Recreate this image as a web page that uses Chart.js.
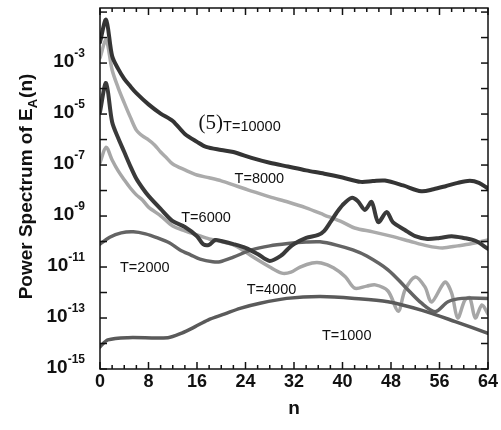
<!DOCTYPE html>
<html>
<head>
<meta charset="utf-8">
<script src="https://cdn.jsdelivr.net/npm/chart.js@4.4.0/dist/chart.umd.min.js"></script>
<style>
  html, body { margin: 0; padding: 0; background: #fff; }
  #wrap { width: 501px; height: 430px; }
</style>
</head>
<body>
<div id="wrap"><canvas id="chart" width="501" height="430"></canvas></div>
<script>
// spectra: mode number n and log10 of the power, per run length T
const n10000 = [0, 1, 2, 3, 4, 5, 6, 8, 10, 12, 14, 16, 17.5, 20, 22, 25, 28, 31, 34, 37, 40, 43, 45, 47, 50, 53, 55, 57, 59, 61, 62.5, 64];
const logP10000 = [-2.18, -1.30, -2.72, -3.23, -3.62, -3.91, -4.18, -4.62, -4.98, -5.27, -5.78, -6.09, -6.29, -6.41, -6.49, -6.72, -6.91, -7.06, -7.21, -7.34, -7.49, -7.66, -7.63, -7.61, -7.80, -8.03, -7.95, -7.83, -7.70, -7.62, -7.70, -7.92];

const n8000 = [0, 1, 2, 3, 4, 5, 6, 7, 8, 9, 10, 11, 12, 14, 16, 18, 20, 22, 24, 25, 28, 31, 34, 37, 40, 42, 45, 48, 51, 54, 56.5, 59, 61, 64];
const logP8000 = [-2.80, -2.10, -3.27, -3.97, -4.56, -5.12, -5.63, -5.86, -6.01, -6.21, -6.49, -6.72, -6.96, -7.19, -7.39, -7.50, -7.62, -7.78, -7.94, -8.02, -8.25, -8.45, -8.68, -8.96, -9.24, -9.47, -9.62, -9.79, -9.98, -10.17, -10.25, -10.17, -10.10, -9.94];

const n6000 = [0, 1, 2, 3, 4, 5, 6, 7, 8, 10, 12, 14, 16, 17, 18, 19, 20, 22, 24, 26, 28, 30, 31, 32, 34, 36, 37, 38, 39, 40, 41.5, 42.5, 43.7, 44.8, 45.9, 47.3, 48.3, 50.3, 52, 54, 56, 58, 60, 62, 64];
const logP6000 = [-4.92, -3.78, -5.31, -5.94, -6.49, -7.04, -7.54, -7.90, -8.21, -8.72, -9.20, -9.43, -9.79, -10.10, -10.13, -9.94, -9.98, -10.10, -10.25, -10.49, -10.76, -10.53, -10.29, -10.10, -9.86, -9.74, -9.58, -9.24, -8.88, -8.57, -8.29, -8.41, -8.76, -8.45, -9.24, -8.84, -9.24, -9.55, -9.79, -9.90, -9.86, -9.79, -9.86, -9.98, -10.29];

const n4000 = [0, 1, 2, 3, 4, 5, 6, 7, 8, 10, 12, 14, 16, 18, 20, 22, 23, 25, 28, 30, 31.5, 33, 35, 36.5, 38.5, 40.5, 42, 44, 45.4, 47.5, 49.2, 50.3, 52, 53.6, 54.7, 56.9, 58, 59, 60.2, 61, 61.9, 63, 64];
const logP4000 = [-6.91, -6.30, -6.80, -7.23, -7.58, -7.90, -8.17, -8.37, -8.65, -8.99, -9.39, -9.58, -9.74, -9.90, -10.00, -10.13, -10.25, -10.57, -11.00, -11.24, -11.20, -11.00, -10.84, -10.84, -11.03, -11.39, -11.83, -11.75, -11.70, -11.94, -12.73, -11.91, -11.39, -11.78, -12.37, -11.59, -12.02, -13.00, -12.29, -12.21, -13.00, -12.49, -12.84];

const n2000 = [0, 1.6, 3.5, 5.5, 7.5, 9.5, 11.5, 13.2, 15, 16.5, 18.6, 19.8, 22, 25, 28, 31, 34, 36.3, 39, 41.7, 44, 47.5, 50.3, 53, 55.3, 57.4, 59.7, 64];
const logP2000 = [-10.10, -9.83, -9.66, -9.62, -9.70, -9.86, -10.06, -10.33, -10.53, -10.69, -10.79, -10.79, -10.61, -10.33, -10.17, -10.08, -10.02, -10.01, -10.14, -10.33, -10.57, -11.11, -11.77, -12.41, -12.75, -12.36, -12.23, -12.23];

const n1000 = [0, 1.3, 4.6, 11.2, 13.5, 15.7, 17.8, 20.6, 23.1, 26.4, 30.8, 36.3, 42, 47.5, 53, 58.6, 64];
const logP1000 = [-14.13, -13.86, -13.77, -13.77, -13.59, -13.34, -13.08, -12.84, -12.62, -12.42, -12.23, -12.16, -12.23, -12.36, -12.69, -13.14, -13.60];

const xTickLabels = [0, 8, 16, 24, 32, 40, 48, 56, 64];
const yLabelExponents = [-15, -13, -11, -9, -7, -5, -3];
const yDecades = [-15, -14, -13, -12, -11, -10, -9, -8, -7, -6, -5, -4, -3, -2, -1];

// curve labels as they sit on the figure: text, n, log10 value
const curveNotes = [
  { text: 'T=10000', n: 20.3, lp: -5.49 },
  { text: 'T=8000', n: 22.2, lp: -7.54 },
  { text: 'T=6000', n: 13.4, lp: -9.08 },
  { text: 'T=2000', n: 3.3, lp: -11.04 },
  { text: 'T=4000', n: 24.2, lp: -11.92 },
  { text: 'T=1000', n: 36.6, lp: -13.69 }
];

function series(ns, logs) {
  return ns.map((n, i) => ({ x: n, y: Math.pow(10, logs[i]) }));
}

const SANS = '"Liberation Sans", Arial, Helvetica, sans-serif';

const frame = {
  id: 'frame',
  afterDraw(chart) {
    const { ctx, chartArea: a, scales: { x, y } } = chart;
    ctx.save();
    ctx.strokeStyle = '#111';
    ctx.lineWidth = 1.5;
    const seg = (x1, y1, x2, y2) => { ctx.beginPath(); ctx.moveTo(x1, y1); ctx.lineTo(x2, y2); ctx.stroke(); };
    for (let n = 0; n <= 64; n += 2) {
      const px = x.getPixelForValue(n);
      const len = n % 8 === 0 ? 7 : 4;
      seg(px, a.bottom, px, a.bottom - len);
      seg(px, a.top, px, a.top + len);
    }
    yDecades.forEach(e => {
      const py = y.getPixelForValue(Math.pow(10, e));
      seg(a.left, py, a.left + 7, py);
      seg(a.right, py, a.right - 7, py);
    });
    ctx.strokeRect(a.left, a.top, a.right - a.left, a.bottom - a.top);

    // y tick labels 10^e
    ctx.fillStyle = '#111';
    ctx.textBaseline = 'middle';
    yLabelExponents.forEach(e => {
      const py = y.getPixelForValue(Math.pow(10, e));
      ctx.font = 'bold 12px ' + SANS;
      const ex = String(e);
      const ew = ctx.measureText(ex).width;
      const base = 85 - ew;
      ctx.textAlign = 'left';
      ctx.fillText(ex, base, py - 9);
      ctx.font = 'bold 19px ' + SANS;
      ctx.textAlign = 'right';
      ctx.fillText('10', base, py - 1);
    });

    // y axis title with subscript
    ctx.save();
    ctx.font = 'bold 19px ' + SANS;
    const p1 = 'Power Spectrum of E', p3 = '(n)';
    const w1 = ctx.measureText(p1).width, w3 = ctx.measureText(p3).width;
    ctx.font = 'bold 13px ' + SANS;
    const w2 = ctx.measureText('A').width + 1;
    const total = w1 + w2 + w3;
    const midY = (a.top + a.bottom) / 2 - 2;
    ctx.translate(32, midY + total / 2);
    ctx.rotate(-Math.PI / 2);
    ctx.textAlign = 'left';
    ctx.textBaseline = 'alphabetic';
    ctx.font = 'bold 19px ' + SANS;
    ctx.fillText(p1, 0, 0);
    ctx.font = 'bold 13px ' + SANS;
    ctx.fillText('A', w1, 5);
    ctx.font = 'bold 19px ' + SANS;
    ctx.fillText(p3, w1 + w2, 0);
    ctx.restore();

    // x axis title
    ctx.font = 'bold 19px ' + SANS;
    ctx.textAlign = 'center';
    ctx.textBaseline = 'middle';
    ctx.fillText('n', (a.left + a.right) / 2, 409);

    // panel tag and curve labels
    ctx.font = '21px "Liberation Serif", "Times New Roman", serif';
    ctx.textAlign = 'right';
    ctx.fillText('(5)', x.getPixelForValue(20.3), y.getPixelForValue(Math.pow(10, -5.36)));
    ctx.font = '14.5px ' + SANS;
    ctx.textAlign = 'left';
    curveNotes.forEach(c => {
      ctx.fillText(c.text, x.getPixelForValue(c.n), y.getPixelForValue(Math.pow(10, c.lp)));
    });
    ctx.restore();
  }
};

const lineStyle = (color, width) => ({
  borderColor: color, borderWidth: width, pointRadius: 0, tension: 0.3,
  fill: false, borderCapStyle: 'round', borderJoinStyle: 'round'
});

new Chart(document.getElementById('chart'), {
  type: 'line',
  data: {
    datasets: [
      { label: 'T=10000', data: series(n10000, logP10000), ...lineStyle('#343434', 4) },
      { label: 'T=6000', data: series(n6000, logP6000), ...lineStyle('#3a3a3a', 4) },
      { label: 'T=2000', data: series(n2000, logP2000), ...lineStyle('#646464', 3.5) },
      { label: 'T=1000', data: series(n1000, logP1000), ...lineStyle('#5a5a5a', 3.5) },
      { label: 'T=8000', data: series(n8000, logP8000), ...lineStyle('#ababab', 3.5) },
      { label: 'T=4000', data: series(n4000, logP4000), ...lineStyle('#a6a6a6', 3.5) }
    ]
  },
  options: {
    responsive: false,
    animation: false,
    devicePixelRatio: 1,
    layout: { padding: { left: 0, top: 8, right: 13, bottom: 0 } },
    plugins: { legend: { display: false }, tooltip: { enabled: false } },
    scales: {
      x: {
        type: 'linear', min: 0, max: 64,
        afterBuildTicks: s => { s.ticks = xTickLabels.map(v => ({ value: v })); },
        ticks: { color: '#111', padding: 2, font: { family: SANS, weight: 'bold', size: 18 }, maxRotation: 0 },
        grid: { display: false, drawTicks: false },
        border: { display: false },
        afterFit: s => { s.height = 61; }
      },
      y: {
        type: 'logarithmic', min: 1e-15, max: 1.445e-1,
        ticks: { display: false },
        grid: { display: false, drawTicks: false },
        border: { display: false },
        afterFit: s => { s.width = 100; }
      }
    }
  },
  plugins: [frame]
});
</script>
</body>
</html>
